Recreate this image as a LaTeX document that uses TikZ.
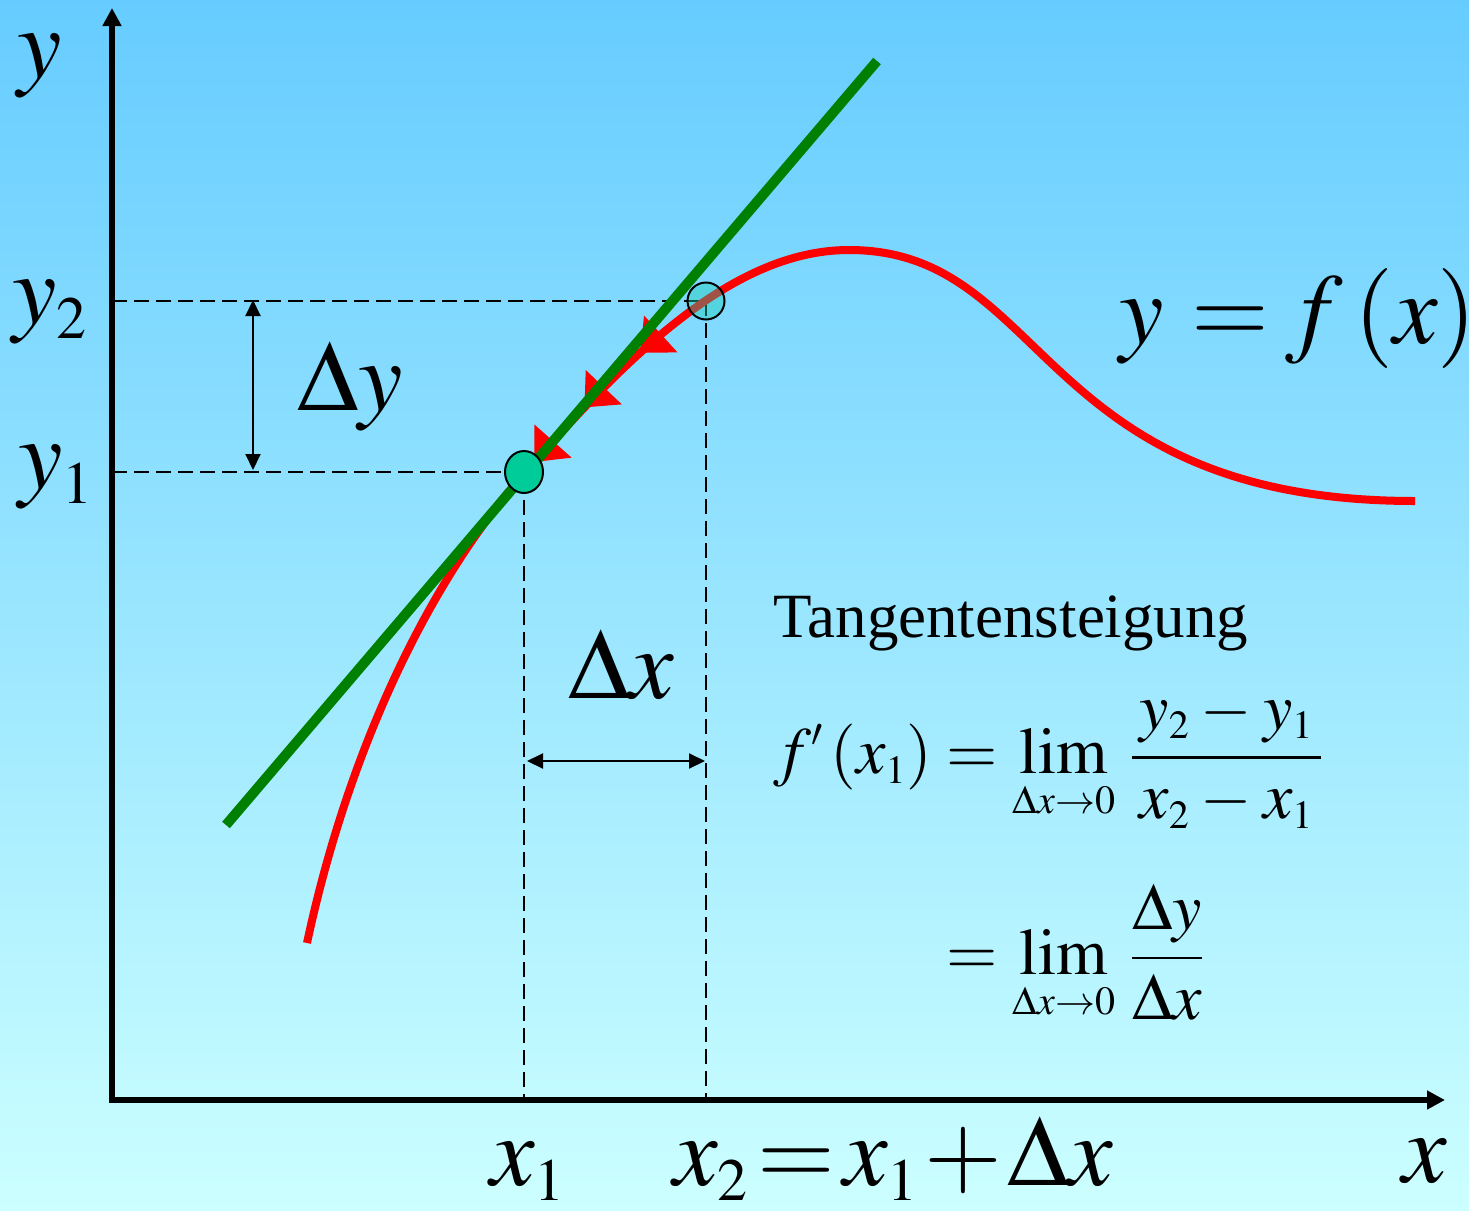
\documentclass[tikz,border=0pt]{standalone}
\usepackage{amsmath}
\usepackage{mathptmx}
\usepackage[no-math]{fontspec}
\setmainfont{Liberation Serif}
\usetikzlibrary{arrows.meta,shapes.geometric,decorations.markings}
\DeclareMathSizes{50}{50}{30}{24}
\DeclareMathSizes{33}{33}{20}{16}
\definecolor{skytop}{RGB}{102,204,255}
\definecolor{skybottom}{RGB}{204,255,255}
\definecolor{curvered}{RGB}{255,0,0}
\definecolor{tangentgreen}{RGB}{0,128,0}
\definecolor{pointgreen}{RGB}{0,204,153}
\definecolor{pointcyan}{RGB}{20,205,175}
\tikzset{
  axis/.style={line width=3pt, {Triangle[length=9pt,width=9pt]}-{Triangle[length=9pt,width=9pt]}},
  helper/.style={line width=0.8pt, dash pattern=on 7.5pt off 3.5pt},
  dimarrow/.style={line width=1pt, {Triangle[length=8pt,width=7.5pt]}-{Triangle[length=8pt,width=7.5pt]}},
  curve/.style={line width=4pt, curvered},
  tangent/.style={line width=5pt, tangentgreen},
  xonept/.style={draw, ellipse, line width=1pt, fill=pointgreen,
    minimum width=19pt, minimum height=21pt, inner sep=0pt},
  xtwopt/.style={draw, circle, line width=1pt, fill=pointcyan, fill opacity=0.4,
    minimum size=18.5pt, inner sep=0pt},
  biglabel/.style={font=\fontsize{50}{60}\selectfont, inner sep=0pt},
  textlabel/.style={font=\fontsize{31.5}{38}\selectfont, inner sep=0pt},
  formula/.style={font=\fontsize{33}{40}\selectfont, inner sep=0pt},
  backarrows/.style={decoration={markings,
    mark=at position 269pt with {\arrowreversed{Triangle[length=14pt,width=24pt]}},
    mark=at position 306pt with {\arrowreversed{Triangle[length=14pt,width=24pt]}},
    mark=at position 345pt with {\arrowreversed{Triangle[length=14pt,width=24pt]}}},
    postaction={decorate}},
}
\thickmuskip=3mu plus 2mu
\medmuskip=3mu plus 1mu
\begin{document}
\begin{tikzpicture}[x=0.5pt, y=-0.5pt]
  \useasboundingbox (0,0) rectangle (1469,1211);
  \shade[top color=skytop, bottom color=skybottom] (0,0) rectangle (1469,1211);

  % axes and the two points
  \coordinate (O) at (112,1100);
  \coordinate (xend) at (1445,1100);
  \coordinate (yend) at (112,8);
  \coordinate (P1) at (524,472);
  \coordinate (P2) at (706,301);

  % dashed helpers
  \draw[helper] (O |- P2) -- (P2) -- (P2 |- O);
  \draw[helper] (O |- P1) -- (P1) -- (P1 |- O);

  \draw[axis] (yend) -- (O) -- (xend);

  % function and tangent
  \coordinate (fstart) at (307,943);
  \coordinate (fpeak) at (849,250);
  \coordinate (fend) at (1415,501);
  \draw[curve, backarrows] (fstart)
    .. controls (349,747) and (430,581) .. (522,476)
    .. controls (621,364) and (729,250) .. (fpeak)
    .. controls (1049,250) and (1035,501) .. (fend);
  \coordinate (tA) at (226,825);
  \coordinate (tB) at (877,61);
  \draw[tangent] (tA) -- (tB);

  \node[xonept] (X1) at (P1) {};
  \node[xtwopt] (X2) at (P2) {};

  % Delta arrows
  \coordinate (dyA) at (253,300);
  \coordinate (dyB) at (253,470);
  \draw[dimarrow] (dyA) -- (dyB);
  \coordinate (dxA) at (527,761);
  \coordinate (dxB) at (705,761);
  \draw[dimarrow] (dxA) -- (dxB);

  % labels
  \node[biglabel] (ylab) at (40,66) {$y$};
  \node[biglabel] (xlab) at (1425,1161) {$x$};
  \node[biglabel] (ytwo) at (50,312) {$y_2$};
  \node[biglabel] (yone) at (56,477) {$y_1$};
  \node[biglabel, anchor=base] (xone) at (528,1185) {$x_1$};
  \node[biglabel, anchor=base west] (xtwo) at (673,1185)
    {$\thickmuskip=1.5mu\relax\medmuskip=1mu\relax x_2 = x_1 + \Delta x$};
  \node[biglabel, anchor=base east] (fx) at (1477,343) {$y\, = f\,(x)$};
  \node[biglabel, anchor=base west] (dy) at (297,410) {$\Delta y$};
  \node[biglabel, anchor=base west] (dx) at (568,698) {$\Delta x$};

  \node[textlabel, anchor=base west] (tang) at (773,637) {Tangentensteigung};
  \node[formula, anchor=west] (deriv) at (773,856) {$\thickmuskip=4mu\relax
    \begin{aligned}
    f'\,(x_1) &= \lim_{\Delta x\to 0}\,\frac{\,y_2-y_1\,}{\,x_2-x_1\,}\\[24pt]
    &= \lim_{\Delta x\to 0}\,\frac{\Delta y}{\Delta x}
  \end{aligned}$};
\end{tikzpicture}
\end{document}
